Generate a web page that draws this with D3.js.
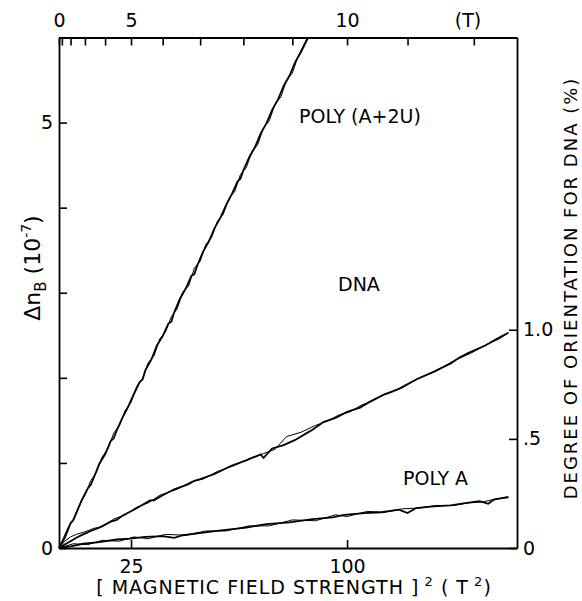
<!DOCTYPE html>
<meta charset="utf-8">
<style>
  body { margin: 0; background: #fff; }
  text { font-family: "DejaVu Sans", sans-serif; fill: #000; }
</style>
<body>
<script src="https://cdnjs.cloudflare.com/ajax/libs/d3/7.8.5/d3.min.js"></script>
<script>

var width = 582,
    height = 601;

// x is B^2 (T^2), y is delta n_B (10^-7)
var polyA2U_thick = [[0,0],[2,0.12],[4,0.29],[5,0.33],[6,0.41],[8,0.57],[10,0.70],[11,0.74],[12,0.82],[14,0.99],[16,1.10],[18,1.26],[19,1.29],[20,1.38],[22,1.53],[24,1.66],[26,1.81],[28,1.95],[29,1.98],[30,2.09],[32,2.21],[34,2.38],[36,2.49],[38,2.64],[39,2.66],[40,2.77],[42,2.93],[44,3.05],[46,3.20],[47,3.22],[48,3.32],[50,3.48],[52,3.60],[54,3.76],[56,3.88],[58,4.03],[60,4.16],[62,4.31],[63,4.34],[64,4.44],[66,4.59],[68,4.71],[70,4.87],[72,4.99],[74,5.15],[76,5.27],[78,5.43],[80,5.55],[82,5.71],[84,5.83],[86.5,6.0]];
var polyA2U_thin  = [[0,0],[3,0.23],[5,0.34],[7,0.50],[9,0.62],[11,0.79],[13,0.89],[15,1.07],[17,1.17],[19,1.35],[21,1.44],[23,1.62],[25,1.71],[27,1.90],[29,1.99],[31,2.18],[33,2.26],[35,2.46],[37,2.54],[39,2.72],[41,2.81],[43,3.01],[45,3.08],[47,3.29],[49,3.37],[51,3.57],[53,3.65],[55,3.84],[57,3.92],[59,4.11],[61,4.19],[63,4.39],[65,4.47],[67,4.66],[69,4.74],[71,4.94],[73,5.02],[75,5.22],[77,5.30],[79,5.50],[81,5.58],[83,5.78],[86.3,6.0]];

var dna_thick = [[0,0],[2,0.04],[4,0.08],[6,0.12],[8.4,0.16],[11,0.20],[14,0.24],[18,0.31],[20,0.33],[22,0.38],[26,0.45],[31.6,0.56],[33,0.56],[36,0.62],[40,0.69],[45,0.75],[47,0.79],[49,0.81],[54,0.87],[60,0.97],[65,1.03],[70,1.10],[71,1.06],[74,1.17],[78,1.21],[82,1.27],[86,1.35],[88,1.39],[91.8,1.48],[96,1.53],[100,1.60],[104.5,1.65],[108,1.72],[112.6,1.80],[115,1.83],[118,1.87],[124,1.98],[130,2.07],[136,2.17],[139,2.24],[142,2.29],[148,2.38],[152,2.46],[156,2.53]];
var dna_thin  = [[0,0],[2,0.08],[4,0.13],[6,0.16],[9,0.19],[12,0.23],[15,0.25],[19,0.34],[23,0.39],[27,0.48],[31,0.53],[35,0.62],[41,0.69],[46,0.78],[50,0.81],[55,0.90],[61,0.97],[66,1.05],[71,1.11],[75,1.16],[79,1.31],[84,1.36],[89,1.44],[93,1.49],[97,1.56],[101,1.60],[105,1.68],[109,1.73],[113,1.81],[119,1.88],[125,2.00],[131,2.08],[137,2.20],[143,2.29],[149,2.40],[153,2.46],[156,2.53]];

var polyA_thick = [[0,0],[4,0.02],[8.4,0.05],[14,0.07],[20,0.10],[24.7,0.11],[30,0.13],[36,0.14],[40,0.12],[43,0.15],[50,0.18],[57,0.21],[65,0.24],[72,0.28],[80,0.30],[88,0.34],[95,0.36],[99,0.39],[106,0.41],[112,0.42],[118,0.45],[121,0.41],[124,0.47],[130,0.49],[136,0.50],[141.6,0.53],[146,0.55],[149,0.52],[151,0.57],[156,0.60]];
var polyA_thin  = [[0,0],[5,0.05],[10,0.04],[15,0.09],[21,0.08],[26,0.13],[31,0.11],[37,0.16],[44,0.15],[51,0.20],[58,0.20],[66,0.26],[73,0.26],[81,0.33],[89,0.32],[96,0.39],[100,0.37],[107,0.43],[113,0.42],[119,0.46],[125,0.47],[131,0.50],[137,0.50],[142,0.53],[147,0.54],[152,0.58],[156,0.59]];

var topTicks = [0,1,2,3,4,5,6,7,8,9,10,11,12],
    topLabels = {0: "0", 5: "5", 10: "10"};
var bottomTicks = [25, 100];
var leftTicks = [0,1,2,3,4,5,6],
    leftLabels = {0: "0", 5: "5"};
var rightTicks = [0, 0.5, 1.0],
    rightLabels = ["0", ".5", "1.0"];

var curves = [
  {label: "POLY (A+2U)", thick: polyA2U_thick, thin: polyA2U_thin, lx: 299, ly: 123},
  {label: "DNA", thick: dna_thick, thin: dna_thin, lx: 338, ly: 291},
  {label: "POLY A", thick: polyA_thick, thin: polyA_thin, lx: 403, ly: 485}
];

var x0 = 59, x1 = 517, y0 = 548, y1 = 37.5;

var x = d3.scaleLinear().domain([0, 159]).range([x0, x1]);
var xB = d3.scalePow().exponent(2).domain([0, Math.sqrt(159)]).range([x0, x1]);
var y = d3.scaleLinear().domain([0, 6]).range([y0, y1]);
var yR = d3.scaleLinear().domain([0, 6 / 2.565]).range([y0, y1]);

var svg = d3.select("body").append("svg")
    .attr("width", width)
    .attr("height", height);

function styleAxis(g) {
  g.selectAll(".domain").attr("stroke", "#000").attr("stroke-width", 1.8);
  g.selectAll(".tick line").attr("stroke", "#000").attr("stroke-width", 1.6);
  g.selectAll(".tick text").attr("font-size", 19).attr("font-family", "DejaVu Sans").attr("fill", "#000");
  g.attr("font-family", null);
}

svg.append("g")
    .attr("transform", "translate(0," + y1 + ")")
    .call(d3.axisTop(xB).tickValues(topTicks).tickSize(-8).tickSizeOuter(0).tickPadding(11)
      .tickFormat(function(d) { return topLabels[d] || ""; }))
    .call(styleAxis);

svg.append("g")
    .attr("transform", "translate(0," + y0 + ")")
    .call(d3.axisBottom(x).tickValues(bottomTicks).tickSize(-8).tickSizeOuter(0).tickPadding(12))
    .call(styleAxis);

svg.append("g")
    .attr("transform", "translate(" + x0 + ",0)")
    .call(d3.axisLeft(y).tickValues(leftTicks).tickSize(-8).tickSizeOuter(0).tickPadding(6)
      .tickFormat(function(d) { return leftLabels[d] || ""; }))
    .call(styleAxis);

svg.append("g")
    .attr("transform", "translate(" + x1 + ",0)")
    .call(d3.axisRight(yR).tickValues(rightTicks).tickSize(-8).tickSizeOuter(0).tickPadding(6)
      .tickFormat(function(d, i) { return rightLabels[i]; }))
    .call(styleAxis);

svg.append("text")
    .attr("x", 468).attr("y", 27)
    .attr("text-anchor", "middle")
    .attr("font-size", 19)
    .text("(T)");

var line = d3.line()
    .x(function(d) { return x(d[0]); })
    .y(function(d) { return y(d[1]); });

curves.forEach(function(c) {
  svg.append("path")
      .attr("d", line(c.thin))
      .attr("fill", "none")
      .attr("stroke", "#000")
      .attr("stroke-width", 1);
  svg.append("path")
      .attr("d", line(c.thick))
      .attr("fill", "none")
      .attr("stroke", "#000")
      .attr("stroke-width", 1.8);
  svg.append("text")
      .attr("x", c.lx).attr("y", c.ly)
      .attr("font-size", 19)
      .text(c.label);
});

// bottom title
var bt = svg.append("text")
    .attr("x", 294).attr("y", 594)
    .attr("text-anchor", "middle")
    .attr("font-size", 19)
    .attr("letter-spacing", 1);
bt.append("tspan").text("[ MAGNETIC  FIELD  STRENGTH ]");
bt.append("tspan").attr("font-size", 13).attr("dy", -8).text(" 2");
bt.append("tspan").attr("dy", 8).text(" ( T");
bt.append("tspan").attr("font-size", 13).attr("dy", -8).text(" 2");
bt.append("tspan").attr("dy", 8).text(")");

// left title
var lt = svg.append("text")
    .attr("transform", "translate(40,268) rotate(-90)")
    .attr("text-anchor", "middle")
    .attr("font-size", 22);
lt.append("tspan").text("\u0394n");
lt.append("tspan").attr("font-size", 15).attr("dy", 6).text("B");
lt.append("tspan").attr("dy", -6).text(" (10");
lt.append("tspan").attr("font-size", 14).attr("dy", -9).text("-7");
lt.append("tspan").attr("dy", 9).text(")");

// right title
svg.append("text")
    .attr("transform", "translate(577,288) rotate(-90)")
    .attr("text-anchor", "middle")
    .attr("font-size", 18)
    .attr("letter-spacing", 2)
    .text("DEGREE  OF  ORIENTATION  FOR  DNA  (%)");

</script>
